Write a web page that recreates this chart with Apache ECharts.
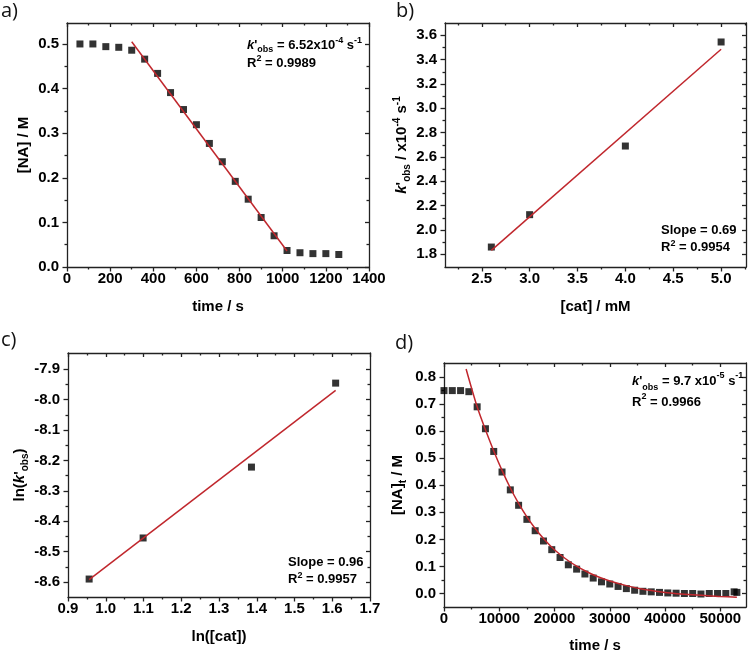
<!DOCTYPE html>
<html><head><meta charset="utf-8">
<script src="https://cdn.jsdelivr.net/npm/echarts@6/dist/echarts.min.js"></script>
<style>html,body{margin:0;padding:0;background:#fff}#c{width:750px;height:652px}</style>
</head><body><div id="c"></div>
<script>
// ---------- Panel a: [NA] vs time ----------
const aTime = [60,120,180,240,300,360,420,480,540,600,660,720,780,840,900,960,1020,1080,1140,1200,1260];
const aConc = [0.500,0.500,0.494,0.4925,0.486,0.466,0.434,0.391,0.353,0.319,0.277,0.236,0.192,0.152,0.111,0.070,0.037,0.032,0.030,0.030,0.028];
const aFitTime = [300, 1020];
const aFitConc = [0.505, 0.036];
const aXTicks = [0,200,400,600,800,1000,1200,1400];
const aXMinor = [100,300,500,700,900,1100,1300];
const aYTicks = [0,0.1,0.2,0.3,0.4,0.5];
const aYMinor = [0.05,0.15,0.25,0.35,0.45];

// ---------- Panel b: k'obs vs [cat] ----------
const bCat = [2.6, 3.0, 4.0, 5.0];
const bK = [1.86, 2.126, 2.69, 3.545];
const bFitCat = [2.6, 5.0];
const bFitK = [1.833, 3.485];
const bXTicks = [2.5,3.0,3.5,4.0,4.5,5.0];
const bXMinor = [2.25,2.75,3.25,3.75,4.25,4.75,5.25];
const bYTicks = [1.8,2.0,2.2,2.4,2.6,2.8,3.0,3.2,3.4,3.6];
const bYMinor = [1.9,2.1,2.3,2.5,2.7,2.9,3.1,3.3,3.5];

// ---------- Panel c: ln(k'obs) vs ln([cat]) ----------
const cLnCat = [0.956, 1.099, 1.386, 1.609];
const cLnK = [-8.590, -8.455, -8.222, -7.946];
const cFitLnCat = [0.956, 1.609];
const cFitLnK = [-8.592, -7.970];
const cXTicks = [0.9,1.0,1.1,1.2,1.3,1.4,1.5,1.6,1.7];
const cXMinor = [0.95,1.05,1.15,1.25,1.35,1.45,1.55,1.65];
const cYTicks = [-8.6,-8.5,-8.4,-8.3,-8.2,-8.1,-8.0,-7.9];
const cYMinor = [-8.55,-8.45,-8.35,-8.25,-8.15,-8.05,-7.95];

// ---------- Panel d: [NA]t vs time ----------
const dTime = [0,1500,3000,4500,6000,7500,9000,10500,12000,13500,15000,16500,18000,19500,21000,22500,24000,25500,27000,28500,30000,31500,33000,34500,36000,37500,39000,40500,42000,43500,45000,46500,48000,49500,51000,52500,53000];
const dConc = [0.750,0.750,0.750,0.746,0.690,0.609,0.525,0.449,0.383,0.326,0.274,0.232,0.194,0.162,0.133,0.106,0.090,0.072,0.057,0.043,0.035,0.026,0.018,0.012,0.008,0.006,0.004,0.002,0.001,0.000,0.000,-0.002,0.000,0.000,0.000,0.006,0.004];
const dFitTime = [4000,6000,7500,9000,10500,12000,13500,15000,16500,18000,19500,21000,22500,24000,25500,27000,28500,30000,33000,36000,40000,45000,50000,53000];
const dFitConc = [0.830,0.690,0.605,0.527,0.455,0.390,0.333,0.283,0.240,0.203,0.171,0.144,0.121,0.101,0.084,0.069,0.057,0.046,0.029,0.016,0.004,-0.005,-0.011,-0.014];
const dXTicks = [0,10000,20000,30000,40000,50000];
const dXMinor = [5000,15000,25000,35000,45000];
const dYTicks = [0,0.1,0.2,0.3,0.4,0.5,0.6,0.7,0.8];
const dYMinor = [0.05,0.15,0.25,0.35,0.45,0.55,0.65,0.75];

const FONT = 'Liberation Sans';
const AX = '#222';
const RED = '#c0272d';
const richName = {
  i: {fontStyle:'italic', fontWeight:'bold', fontSize:15, fontFamily:FONT, color:'#000'},
  sub: {fontSize:10, fontWeight:'bold', fontFamily:FONT, color:'#000', verticalAlign:'bottom', lineHeight:9},
  sup: {fontSize:10, fontWeight:'bold', fontFamily:FONT, color:'#000', verticalAlign:'top', lineHeight:9}
};

function buildAxes(dim, gi, c) {
  const isX = dim === 'x';
  const pMain = isX ? 'bottom' : 'left', pMir = isX ? 'top' : 'right';
  const ls = {color: AX, width: 1.3};
  const fmt = v => Number(v).toFixed(c.dec);
  return [
    {
      gridIndex: gi, type: 'value', min: c.min, max: c.max, position: pMain, splitLine: {show: false},
      axisLine: {show: true, onZero: false, lineStyle: ls},
      axisTick: {show: true, length: 4.5, customValues: c.major, lineStyle: ls},
      axisLabel: {show: true, customValues: c.major, formatter: fmt, color: '#000', fontFamily: FONT, fontWeight: 'bold', fontSize: 15, margin: isX ? 4 : 8},
      name: c.name, nameLocation: 'middle', nameGap: c.gap,
      nameTextStyle: {fontFamily: FONT, fontWeight: 'bold', fontSize: 15, color: '#000', lineHeight: 20, rich: richName}
    },
    {
      gridIndex: gi, type: 'value', min: c.min, max: c.max, position: pMain, splitLine: {show: false},
      axisLine: {show: false, onZero: false},
      axisTick: {show: true, length: 2.5, customValues: c.minor, lineStyle: ls},
      axisLabel: {show: false}
    },
    {
      gridIndex: gi, type: 'value', min: c.min, max: c.max, position: pMir, splitLine: {show: false},
      axisLine: {show: true, onZero: false, lineStyle: ls},
      axisTick: {show: true, inside: true, length: 4, customValues: c.major, lineStyle: ls},
      axisLabel: {show: false}
    },
    {
      gridIndex: gi, type: 'value', min: c.min, max: c.max, position: pMir, splitLine: {show: false},
      axisLine: {show: false, onZero: false},
      axisTick: {show: true, inside: true, length: 2.5, customValues: c.minor, lineStyle: ls},
      axisLabel: {show: false}
    }
  ];
}

const zip = (xs, ys) => xs.map((x, i) => [x, ys[i]]);

const grids = [
  {left: 67, top: 23, width: 302, height: 244, outerBoundsMode: 'none'},
  {left: 445, top: 23, width: 301, height: 244, outerBoundsMode: 'none'},
  {left: 68, top: 353, width: 302, height: 244, outerBoundsMode: 'none'},
  {left: 444, top: 363, width: 302, height: 244, outerBoundsMode: 'none'}
];

const xAxes = [].concat(
  buildAxes('x', 0, {min: 0, max: 1400, major: aXTicks, minor: aXMinor, dec: 0, name: 'time / s', gap: 30}),
  buildAxes('x', 1, {min: 2.116, max: 5.26, major: bXTicks, minor: bXMinor, dec: 1, name: '[cat] / mM', gap: 30}),
  buildAxes('x', 2, {min: 0.9, max: 1.7, major: cXTicks, minor: cXMinor, dec: 1, name: 'ln([cat])', gap: 30}),
  buildAxes('x', 3, {min: 0, max: 54650, major: dXTicks, minor: dXMinor, dec: 0, name: 'time / s', gap: 29})
);
const yAxes = [].concat(
  buildAxes('y', 0, {min: 0, max: 0.547, major: aYTicks, minor: aYMinor, dec: 1, name: '[NA] / M', gap: 30}),
  buildAxes('y', 1, {min: 1.696, max: 3.701, major: bYTicks, minor: bYMinor, dec: 1, name: "{i|k}'{sub|obs} / x10{sup|-4} s{sup|-1}", gap: 33}),
  buildAxes('y', 2, {min: -8.649, max: -7.847, major: cYTicks, minor: cYMinor, dec: 1, name: "ln({i|k}'{sub|obs})", gap: 37}),
  buildAxes('y', 3, {min: -0.05, max: 0.852, major: dYTicks, minor: dYMinor, dec: 1, name: '[NA]{sub|t} / M', gap: 36})
);

function scatter(gi, data) {
  return {type: 'scatter', xAxisIndex: gi * 4, yAxisIndex: gi * 4, data: data, symbol: 'rect', symbolSize: 7,
    itemStyle: {color: '#000'}, z: 3, silent: true};
}
function fit(gi, data, smooth) {
  return {type: 'line', xAxisIndex: gi * 4, yAxisIndex: gi * 4, data: data, showSymbol: false, symbol: 'none',
    smooth: smooth || false, lineStyle: {color: RED, width: 1.5}, z: 4, silent: true};
}

// Text annotations as graphic text elements (rich text)
const annStyle = {fontFamily: FONT, fontWeight: 'bold', fontSize: 13, fill: '#000'};
function annRich(lh) {
  return {
    b: {fontFamily: FONT, fontWeight: 'bold', fontSize: 13, fill: '#000', lineHeight: lh},
    i: {fontFamily: FONT, fontWeight: 'bold', fontStyle: 'italic', fontSize: 13, fill: '#000', lineHeight: lh},
    sub: {fontFamily: FONT, fontWeight: 'bold', fontSize: 9, fill: '#000', verticalAlign: 'bottom', lineHeight: 9},
    sup: {fontFamily: FONT, fontWeight: 'bold', fontSize: 9, fill: '#000', verticalAlign: 'top', lineHeight: 9}
  };
}
function ann(text, left, top, lh) {
  return {type: 'text', left: left, top: top, silent: true, z: 10,
    style: Object.assign({text: text, lineHeight: lh, rich: annRich(lh)}, annStyle)};
}
function panelLabel(text, left, top) {
  return {type: 'text', left: left, top: top, silent: true, z: 10,
    style: {text: text, fontFamily: 'Open Sans', fontWeight: 'normal', fontSize: 20, fill: '#111'}};
}

const option = {
  animation: false,
  backgroundColor: '#fff',
  grid: grids,
  xAxis: xAxes,
  yAxis: yAxes,
  graphic: [
    panelLabel('a)', 1, 1),
    panelLabel('b)', 396, 1),
    panelLabel('c)', 1, 330),
    panelLabel('d)', 395, 333),
    ann("{i|k}{b|'}{sub|obs}{b| = 6.52x10}{sup|-4}{b| s}{sup|-1}\n{b|R}{sup|2}{b| = 0.9989}", 247, 36, 18),
    ann("{b|Slope = 0.69}\n{b|R}{sup|2}{b| = 0.9954}", 661, 222, 17),
    ann("{b|Slope = 0.96}\n{b|R}{sup|2}{b| = 0.9957}", 288, 554, 17),
    ann("{i|k}{b|'}{sub|obs}{b| = 9.7 x10}{sup|-5}{b| s}{sup|-1}\n{b|R}{sup|2}{b| = 0.9966}", 632, 371, 21)
  ],
  series: [
    fit(0, zip(aFitTime, aFitConc)), scatter(0, zip(aTime, aConc)),
    fit(1, zip(bFitCat, bFitK)), scatter(1, zip(bCat, bK)),
    fit(2, zip(cFitLnCat, cFitLnK)), scatter(2, zip(cLnCat, cLnK)),
    fit(3, zip(dFitTime, dFitConc), 0.3), scatter(3, zip(dTime, dConc))
  ]
};
const chart = echarts.init(document.getElementById('c'));
chart.setOption(option);
</script>
</body></html>
